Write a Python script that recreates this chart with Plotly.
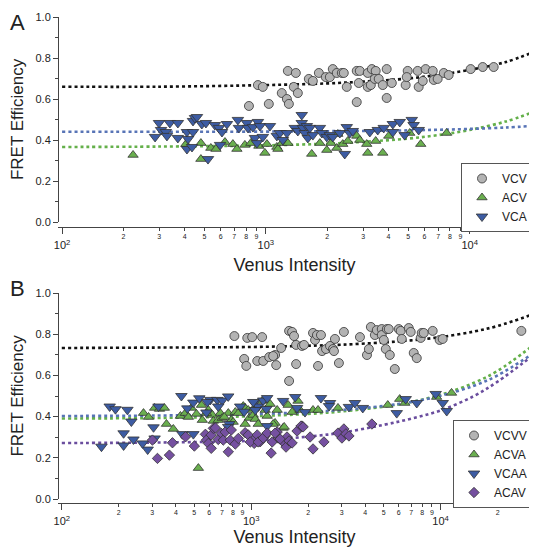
import numpy as np
import plotly.graph_objects as go

# ---------------- Panel A data ----------------
vcv_int = [914, 826, 1034, 1197, 1268, 1297, 1282, 1403, 1371, 1435, 1625, 1700, 1820, 1968, 2060,
           2130, 2228, 2359, 2412, 2494, 2792, 2890, 2857, 2792, 3162, 3311, 3459, 3162, 3273, 3422,
           3580, 3747, 3917, 3917, 4150, 4853, 4966, 4911, 5623, 5559, 5888, 6081, 6590, 6668, 6966,
           7464, 7889, 10116, 11588, 13120, 966]
vcv_eff = [0.668, 0.566, 0.576, 0.629, 0.600, 0.576, 0.737, 0.727, 0.659, 0.629, 0.698, 0.688, 0.727, 0.707, 0.707,
           0.746, 0.727, 0.727, 0.727, 0.659, 0.737, 0.737, 0.678, 0.585, 0.727, 0.746, 0.737, 0.659, 0.668, 0.698,
           0.698, 0.668, 0.746, 0.605, 0.678, 0.668, 0.737, 0.707, 0.659, 0.737, 0.688, 0.746, 0.737, 0.693, 0.698,
           0.727, 0.717, 0.746, 0.756, 0.756, 0.659]

acv_int = [223, 405, 480, 480, 537, 569, 630, 689, 721, 789, 844, 924, 989, 1012, 1132, 1146, 1197, 1282,
           1679, 1841, 1991, 2084, 2228, 2254, 2384, 2523, 2792, 2890, 3126, 3162, 3459, 3747, 4009, 5081,
           5754, 7709]
acv_eff = [0.327, 0.380, 0.385, 0.307, 0.361, 0.356, 0.390, 0.380, 0.356, 0.376, 0.385, 0.371, 0.337, 0.380,
           0.366, 0.356, 0.385, 0.385, 0.332, 0.385, 0.351, 0.385, 0.361, 0.429, 0.380, 0.395, 0.420, 0.400,
           0.380, 0.337, 0.395, 0.337, 0.420, 0.434, 0.380, 0.434]

vca_int = [286, 299, 306, 323, 327, 338, 370, 370, 410, 410, 415, 434, 439, 439, 449, 459, 485, 508, 520,
           562, 589, 596, 609, 644, 729, 738, 807, 817, 864, 914, 935, 884, 904, 966, 1047, 1132, 1172, 1211,
           1268, 1387, 1435, 1500, 1500, 1518, 1589, 1553, 1607, 1644, 1700, 1841, 1884, 1991, 2060, 2130,
           2306, 2438, 2494, 2582, 2669, 3236, 3540, 3788, 4198, 4198, 4539, 4797, 5200, 5309, 5623]
vca_eff = [0.415, 0.483, 0.449, 0.439, 0.420, 0.483, 0.483, 0.410, 0.439, 0.356, 0.405, 0.366, 0.439, 0.493,
           0.507, 0.512, 0.478, 0.483, 0.307, 0.473, 0.459, 0.376, 0.439, 0.478, 0.498, 0.459, 0.483, 0.459,
           0.463, 0.488, 0.468, 0.410, 0.385, 0.415, 0.468, 0.420, 0.434, 0.400, 0.434, 0.459, 0.444, 0.522,
           0.483, 0.459, 0.468, 0.434, 0.410, 0.459, 0.424, 0.459, 0.434, 0.415, 0.424, 0.415, 0.434, 0.332,
           0.463, 0.434, 0.444, 0.439, 0.449, 0.459, 0.439, 0.478, 0.488, 0.424, 0.498, 0.473, 0.449]

# fit curves
fit_int_a = [100, 300, 1000, 2000, 3000, 5000, 7000, 10000, 15000, 20000]
fit_vcv_a = [0.660, 0.660, 0.668, 0.676, 0.685, 0.700, 0.718, 0.742, 0.780, 0.824]
fit_acv_a = [0.366, 0.368, 0.374, 0.382, 0.391, 0.407, 0.424, 0.449, 0.490, 0.532]
fit_vca_a = [0.440, 0.440, 0.441, 0.443, 0.444, 0.447, 0.450, 0.454, 0.461, 0.468]

# ---------------- Panel B data ----------------
vcvv_int = [815, 953, 1012, 1142, 918, 942, 1076, 1157, 1245, 1337, 1355, 1306, 1439, 1585, 1585, 1644,
            1683, 1726, 1726, 1854, 1901, 2120, 2173, 2224, 2335, 2253, 2366, 2483, 2606, 2703, 2767, 2735,
            2904, 3085, 3751, 4084, 4180, 4283, 4495, 4603, 4889, 4889, 5011, 5135, 5200, 5323, 5392, 5730,
            6012, 6155, 6237, 6788, 6951, 7211, 7483, 7852, 7946, 8143, 9080, 9884, 10254, 26680]
vcvv_eff = [0.791, 0.782, 0.786, 0.786, 0.680, 0.646, 0.670, 0.670, 0.689, 0.699, 0.650, 0.694, 0.733,
            0.573, 0.816, 0.811, 0.791, 0.748, 0.655, 0.743, 0.748, 0.806, 0.772, 0.796, 0.796, 0.646,
            0.718, 0.728, 0.743, 0.728, 0.777, 0.718, 0.660, 0.811, 0.786, 0.699, 0.728, 0.835, 0.796,
            0.820, 0.825, 0.796, 0.772, 0.728, 0.825, 0.825, 0.699, 0.631, 0.825, 0.816, 0.777, 0.830,
            0.811, 0.709, 0.684, 0.782, 0.806, 0.806, 0.816, 0.772, 0.777, 0.816]

acva_int = [270, 287, 309, 328, 348, 357, 388, 423, 449, 466, 483, 514, 526, 546, 594, 624, 631, 670, 687,
            703, 757, 785, 824, 855, 908, 929, 964, 976, 1025, 1050, 1142, 1185, 1214, 1259, 1371, 1337,
            1473, 1567, 1644, 1766, 552, 580, 721, 803, 929, 1089, 1037, 1811, 2120, 2253, 2871, 5260,
            6081, 6467, 9528, 11420, 1306, 1493]
acva_eff = [0.417, 0.398, 0.442, 0.437, 0.442, 0.364, 0.340, 0.403, 0.417, 0.398, 0.442, 0.413, 0.150,
            0.456, 0.432, 0.408, 0.379, 0.383, 0.417, 0.393, 0.417, 0.383, 0.422, 0.417, 0.451, 0.442,
            0.432, 0.393, 0.408, 0.388, 0.476, 0.432, 0.403, 0.461, 0.432, 0.369, 0.345, 0.456, 0.422,
            0.476, 0.383, 0.417, 0.398, 0.374, 0.364, 0.364, 0.442, 0.432, 0.432, 0.432, 0.442, 0.456,
            0.485, 0.466, 0.495, 0.515, 0.364, 0.350]

vcaa_int = [162, 179, 192, 212, 212, 222, 233, 239, 284, 267, 305, 309, 324, 428, 433, 495, 460, 495, 532,
            580, 608, 662, 703, 756, 670, 766, 875, 918, 1037, 1089, 1157, 1214, 587, 1025, 1050, 1473,
            1706, 1746, 1923, 2335, 2606, 756, 1214, 1202, 2576, 3281, 3527, 3882, 5866, 6540, 7483, 9417,
            10257, 10771]
vcaa_eff = [0.254, 0.449, 0.436, 0.319, 0.260, 0.433, 0.376, 0.289, 0.240, 0.270, 0.348, 0.294, 0.449,
            0.500, 0.315, 0.315, 0.440, 0.468, 0.489, 0.420, 0.481, 0.481, 0.478, 0.498, 0.449, 0.364,
            0.449, 0.424, 0.468, 0.449, 0.478, 0.354, 0.471, 0.471, 0.432, 0.476, 0.495, 0.442, 0.422,
            0.490, 0.466, 0.350, 0.490, 0.437, 0.451, 0.447, 0.466, 0.442, 0.417, 0.485, 0.466, 0.510,
            0.466, 0.427]

acav_int = [301, 320, 370, 384, 450, 501, 573, 580, 594, 615, 615, 631, 670, 695, 712, 757, 775, 824, 855,
            929, 964, 1037, 1050, 1115, 1185, 647, 729, 785, 988, 1076, 1089, 1157, 1214, 1291, 1371, 1387,
            1473, 1545, 1604, 1746, 1854, 2046, 1274, 1337, 1422, 1527, 1585, 1644, 1832, 1879, 2120, 2421,
            2871, 3013, 3085, 3162, 3281, 4335]
acav_eff = [0.286, 0.197, 0.213, 0.273, 0.302, 0.257, 0.314, 0.286, 0.270, 0.311, 0.246, 0.343, 0.289,
            0.319, 0.286, 0.229, 0.286, 0.267, 0.294, 0.322, 0.311, 0.270, 0.294, 0.278, 0.306, 0.345,
            0.325, 0.335, 0.277, 0.311, 0.277, 0.296, 0.320, 0.277, 0.325, 0.296, 0.277, 0.301, 0.272,
            0.330, 0.354, 0.301, 0.223, 0.320, 0.291, 0.252, 0.282, 0.272, 0.354, 0.350, 0.243, 0.277,
            0.320, 0.296, 0.340, 0.316, 0.306, 0.364]

fit_int_b = [100, 300, 1000, 2000, 3000, 5000, 7000, 10000, 15000, 20000, 30000]
fit_vcvv_b = [0.733, 0.735, 0.738, 0.744, 0.749, 0.760, 0.770, 0.786, 0.813, 0.840, 0.893]
fit_acva_b = [0.391, 0.393, 0.402, 0.413, 0.425, 0.448, 0.471, 0.506, 0.564, 0.622, 0.738]
fit_vcaa_b = [0.403, 0.405, 0.412, 0.422, 0.432, 0.452, 0.471, 0.501, 0.550, 0.600, 0.700]
fit_acav_b = [0.272, 0.274, 0.283, 0.303, 0.322, 0.360, 0.390, 0.430, 0.500, 0.570, 0.690]

# tick labels
minor_vals_a = [200, 300, 400, 500, 600, 700, 800, 900, 2000, 3000, 4000, 5000, 6000, 7000, 8000, 9000, 20000]
minor_text_a = ["2", "3", "4", "5", "6", "7", "8", "9", "2", "3", "4", "5", "6", "7", "8", "9", "2"]
minor_vals_b = minor_vals_a + [30000]
minor_text_b = minor_text_a + ["3"]
decade_vals = [100, 1000, 10000]
decade_text = ["10<sup>2</sup>", "10<sup>3</sup>", "10<sup>4</sup>"]

# ---------------- styling ----------------
FONT = "Liberation Sans, Arial, Helvetica, sans-serif"
GRAY, GREEN, BLUE, PURPLE = "#b3b3b3", "#6aaf4f", "#3d5ca3", "#7550a0"
LGREEN, LBLUE, LPURPLE = "#64b04a", "#5874b6", "#6a4d9e"
EDGE = dict(color="#333333", width=0.8)
W, H = 537, 555
OFF = 8  # page body margin of the html page


def px_x(px):
    return (px - OFF) / W


def px_y(py):
    return 1 - (py - OFF) / H


fig = go.Figure()


def fit(x, y, col, xa, ya):
    fig.add_trace(go.Scatter(x=x, y=y, mode="lines",
                             line=dict(color=col, width=2.6, dash="dot", shape="spline"),
                             xaxis=xa, yaxis=ya, showlegend=False, hoverinfo="skip"))


def pts(x, y, name, col, sym, size, xa, ya, leg):
    fig.add_trace(go.Scatter(x=x, y=y, mode="markers", name=name,
                             marker=dict(color=col, symbol=sym, size=size, line=EDGE),
                             xaxis=xa, yaxis=ya, legend=leg))


# Panel A
fit(fit_int_a, fit_vcv_a, "#111111", "x", "y")
fit(fit_int_a, fit_acv_a, LGREEN, "x", "y")
fit(fit_int_a, fit_vca_a, LBLUE, "x", "y")
pts(vcv_int, vcv_eff, "VCV", GRAY, "circle", 9, "x3", "y", "legend")
pts(acv_int, acv_eff, "ACV", GREEN, "triangle-up", 9, "x3", "y", "legend")
pts(vca_int, vca_eff, "VCA", BLUE, "triangle-down", 10, "x3", "y", "legend")

# Panel B
fit(fit_int_b, fit_vcvv_b, "#111111", "x2", "y2")
fit(fit_int_b, fit_acva_b, LGREEN, "x2", "y2")
fit(fit_int_b, fit_vcaa_b, LBLUE, "x2", "y2")
fit(fit_int_b, fit_acav_b, LPURPLE, "x2", "y2")
pts(vcvv_int, vcvv_eff, "VCVV", GRAY, "circle", 9, "x4", "y2", "legend2")
pts(acva_int, acva_eff, "ACVA", GREEN, "triangle-up", 9, "x4", "y2", "legend2")
pts(vcaa_int, vcaa_eff, "VCAA", BLUE, "triangle-down", 10, "x4", "y2", "legend2")
pts(acav_int, acav_eff, "ACAV", PURPLE, "diamond", 8, "x4", "y2", "legend2")

xdom = [px_x(58), px_x(531)]
rng_a = [1.98, np.log10(20000)]
rng_b = [1.98, np.log10(30000)]


def yaxis(top_px, bot_px):
    return dict(domain=[px_y(bot_px), px_y(top_px)], range=[0, 1.0], anchor="free",
                position=xdom[0], showline=True, linecolor="#444", linewidth=1, automargin=False,
                ticks="outside", ticklen=5, tickcolor="#444", tickvals=[0, 0.2, 0.4, 0.6, 0.8, 1.0],
                tickformat=".1f", tickfont=dict(size=11, color="#222"), showgrid=False, zeroline=False,
                minor=dict(tickvals=[0.1, 0.3, 0.5, 0.7, 0.9], ticks="outside", ticklen=3,
                           tickcolor="#444"),
                title=dict(text="FRET Efficiency", font=dict(size=17, color="#222"), standoff=14))


def xminor(pos, rng, vals, text, standoff):
    return dict(domain=xdom, type="log", range=rng, anchor="free", position=pos, automargin=False,
                showline=True, linecolor="#444", linewidth=1, ticks="outside", ticklen=3,
                tickcolor="#444", tickvals=vals, ticktext=text, tickfont=dict(size=7, color="#222"),
                showgrid=False, zeroline=False,
                title=dict(text="Venus Intensity", font=dict(size=18, color="#222"), standoff=standoff))


def xmajor(over, pos, rng):
    return dict(overlaying=over, type="log", range=rng, anchor="free", position=pos, automargin=False,
                showline=False, ticks="outside", ticklen=6, tickcolor="#444",
                tickvals=decade_vals, ticktext=decade_text, tickfont=dict(size=11, color="#222"),
                ticklabelstandoff=2, showgrid=False, zeroline=False)


pos_a = px_y(227)
pos_b = px_y(503)

legend_common = dict(bordercolor="#555", borderwidth=1, bgcolor="white",
                     font=dict(size=12, color="#222"), xanchor="right", yanchor="top",
                     tracegroupgap=0)

fig.update_layout(
    width=W, height=H, margin=dict(l=0, r=0, t=0, b=0, autoexpand=False),
    paper_bgcolor="white", plot_bgcolor="white",
    font=dict(family=FONT, color="#222"),
    xaxis=xminor(pos_a, rng_a, minor_vals_a, minor_text_a, 18),
    xaxis3=xmajor("x", pos_a, rng_a),
    xaxis2=xminor(pos_b, rng_b, minor_vals_b, minor_text_b, 14),
    xaxis4=xmajor("x2", pos_b, rng_b),
    yaxis=yaxis(17, 222),
    yaxis2=yaxis(293, 499),
    legend=dict(x=px_x(533), y=px_y(163), **legend_common),
    legend2=dict(x=px_x(533), y=px_y(420), **legend_common),
    annotations=[
        dict(text="A", x=px_x(17), y=px_y(8), xref="paper", yref="paper", showarrow=False,
             xanchor="center", yanchor="top", font=dict(size=22, color="#222")),
        dict(text="B", x=px_x(17), y=px_y(288), xref="paper", yref="paper", showarrow=False,
             xanchor="center", yanchor="middle", font=dict(size=22, color="#222")),
    ],
)

fig.write_html("out.html")
